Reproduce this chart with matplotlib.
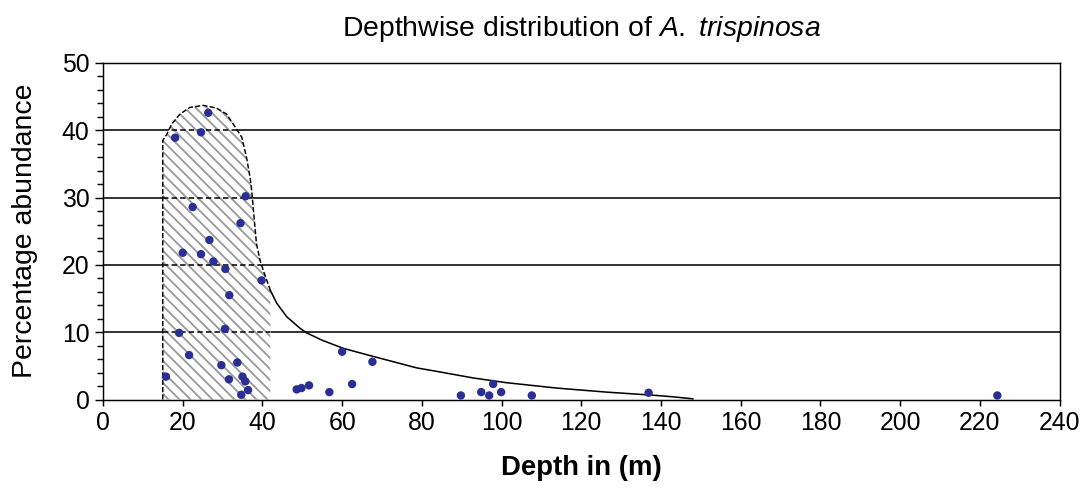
import matplotlib
matplotlib.use('Agg')
import matplotlib.pyplot as plt
from matplotlib.ticker import MultipleLocator

# ---- data ----
depth = [26.4, 24.6, 18.1, 35.8, 22.5, 34.5, 26.7, 20.0, 24.6, 27.7, 30.7, 39.8,
         31.7, 19.1, 30.6, 21.6, 29.7, 33.7, 15.8, 31.6, 35.0, 35.7, 36.4, 34.7,
         48.6, 49.8, 51.7, 56.8, 60.0, 62.5, 67.6, 89.8, 94.9, 97.9, 96.9, 99.9,
         107.6, 136.9, 224.4]
abundance = [42.6, 39.7, 38.9, 30.2, 28.6, 26.2, 23.7, 21.8, 21.6, 20.5, 19.4, 17.7,
             15.5, 9.9, 10.5, 6.6, 5.1, 5.5, 3.4, 3.0, 3.4, 2.7, 1.4, 0.7,
             1.5, 1.7, 2.1, 1.1, 7.1, 2.3, 5.6, 0.6, 1.1, 2.3, 0.6, 1.1,
             0.6, 1.0, 0.6]

# fitted distribution envelope
curve_depth = [15.0, 15.0, 16.0, 17.2, 19.3, 21.8, 25.2, 28.5, 31.0, 32.7, 34.8,
               36.0, 36.9, 37.3, 37.9, 38.5, 39.4, 40.2, 42.0, 43.6, 46.1, 49.4,
               51.1, 55.0, 60.3, 67.8, 78.7, 84.5, 92.9, 101.2, 113.8, 126.3,
               138.9, 143.0, 148.0]
curve_abund = [0.0, 38.5, 39.4, 40.9, 42.4, 43.4, 43.7, 43.3, 42.4, 40.9, 39.0,
               36.0, 33.0, 31.1, 27.1, 23.2, 20.7, 19.2, 16.2, 14.3, 12.3, 10.6,
               9.9, 8.8, 7.6, 6.4, 4.7, 4.1, 3.2, 2.5, 1.7, 1.1,
               0.6, 0.4, 0.1]
hatch_limit = 42.0          # depth range of the hatched (core) zone
hatch_start = 15.0

x_ticks = list(range(0, 241, 20))
y_ticks = [0, 10, 20, 30, 40, 50]
grid_levels = [10, 20, 30, 40]

title_plain = 'Depthwise distribution of '
title_species = 'A.\\ trispinosa'
x_label = 'Depth in (m)'
y_label = 'Percentage abundance'

# ---- style ----
DPI = 132
W, H = 1090, 489
BS = chr(92)
plt.rcParams['font.family'] = ['Liberation Sans', 'DejaVu Sans']
plt.rcParams['mathtext.fontset'] = 'custom'
plt.rcParams['mathtext.rm'] = 'Liberation Sans'
plt.rcParams['mathtext.it'] = 'Liberation Sans:italic'
plt.rcParams['hatch.linewidth'] = 1.0
dot_color = '#2a2f95'
hatch_color = '#9a9a9a'

fig = plt.figure(figsize=(W / DPI, H / DPI), dpi=DPI)
ax = fig.add_axes([103 / W, 1 - 399.5 / H, (1059.5 - 103) / W, (399.5 - 63) / H])

ax.set_xlim(x_ticks[0], x_ticks[-1])
ax.set_ylim(y_ticks[0], y_ticks[-1])

# horizontal grid
for g in grid_levels:
    ax.axhline(g, color='black', lw=0.85, zorder=1)

# hatched zone
hx = [x for x in curve_depth if x <= hatch_limit]
hy = [y for x, y in zip(curve_depth, curve_abund) if x <= hatch_limit]
poly_x = hx + [hatch_limit, hatch_start]
poly_y = hy + [0.0, 0.0]
poly = ax.fill(poly_x, poly_y, facecolor='white', edgecolor=hatch_color,
               hatch=BS * 4, linewidth=0, zorder=2)[0]

# dashed gridlines inside the hatched zone
seg = ax.hlines(grid_levels, hatch_start, hatch_limit, colors='black',
                linewidth=0.85, linestyles=(0, (3.5, 2)), zorder=3)
seg.set_clip_path(poly)

# envelope: dashed over the hatched zone, solid beyond
ax.plot(hx, hy, color='black', lw=0.8, ls=(0, (3.5, 1.5)), zorder=4)
sx = [x for x in curve_depth if x >= hatch_limit]
sy = [y for x, y in zip(curve_depth, curve_abund) if x >= hatch_limit]
ax.plot(sx, sy, color='black', lw=0.85, zorder=4)

# observations
ax.scatter(depth, abundance, s=21, color=dot_color, edgecolors='none', zorder=5)

# axes and ticks
for sp in ax.spines.values():
    sp.set_linewidth(0.8)
ax.set_xticks(x_ticks)
ax.set_yticks(y_ticks)
ax.yaxis.set_minor_locator(MultipleLocator(2))
ax.tick_params(axis='x', which='major', direction='out', length=3.4, width=0.8,
               labelsize=13.5, pad=3)
ax.tick_params(axis='y', which='major', direction='out', length=4.4, width=0.8,
               labelsize=13.5, pad=3)
ax.tick_params(axis='y', which='minor', direction='out', length=3.2, width=0.8)

ax.set_title(title_plain + r'$\mathit{' + title_species + '}$', fontsize=15.5, pad=15)
ax.set_xlabel(x_label, fontsize=15, fontweight='bold', labelpad=11)
ax.set_ylabel(y_label, fontsize=15.5, labelpad=13)

fig.savefig('out.png', dpi=DPI)
